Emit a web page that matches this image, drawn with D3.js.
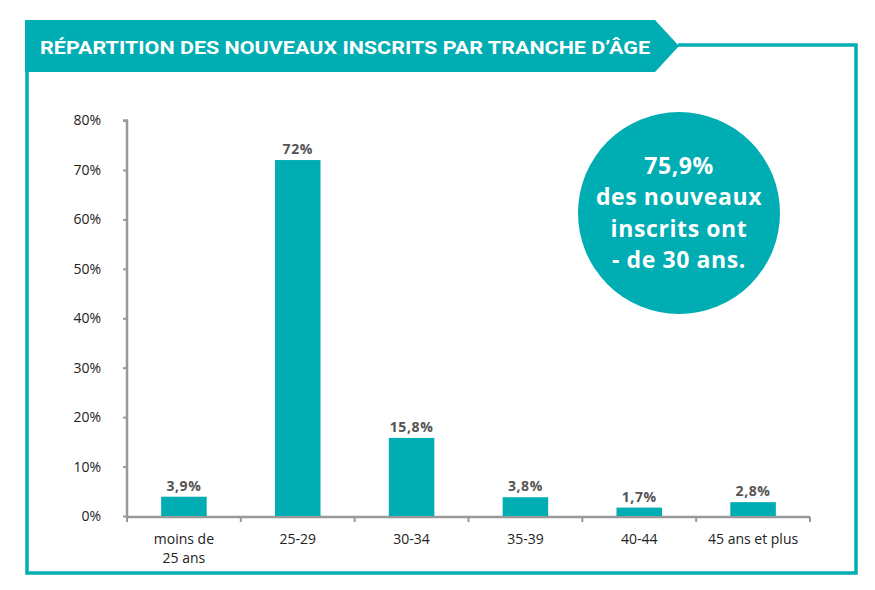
<!DOCTYPE html>
<html><head><meta charset="utf-8">
<script src="https://cdn.jsdelivr.net/npm/d3@7/dist/d3.min.js"></script>
<style>
body{margin:0;background:#fff;}
svg{display:block;font-family:"Open Sans",Lato,sans-serif;}
</style></head>
<body><svg id="c" width="875" height="590"></svg>
<script>
const categories = ["moins de 25 ans","25-29","30-34","35-39","40-44","45 ans et plus"];
const categoryLines = [["moins de","25 ans"],["25-29"],["30-34"],["35-39"],["40-44"],["45 ans et plus"]];
const values = [3.9, 72, 15.8, 3.8, 1.7, 2.8];
const valueLabels = ["3,9%","72%","15,8%","3,8%","1,7%","2,8%"];
const yTicks = [0,10,20,30,40,50,60,70,80];
const title = "RÉPARTITION DES NOUVEAUX INSCRITS PAR TRANCHE D’ÂGE";
const calloutLines = ["75,9%","des nouveaux","inscrits ont","- de 30 ans."];

const teal = "#00adb3";
const svg = d3.select("#c");

// frame
svg.append("path")
  .attr("d","M678,45 L856,45 L856,573 L27,573 L27,70")
  .attr("fill","none").attr("stroke",teal).attr("stroke-width",3.5);
svg.append("path")
  .attr("d","M25,20 L655,20 L679,46 L655,72 L25,72 Z")
  .attr("fill",teal);
svg.append("text").attr("x",40).attr("y",53.5)
  .attr("fill","#fff").attr("font-family","Roboto, 'Open Sans', sans-serif")
  .attr("font-weight",700).attr("font-size",18)
  .attr("textLength",610).attr("lengthAdjust","spacingAndGlyphs")
  .text(title);

const x = d3.scaleBand().domain(categories).range([127,810]).paddingInner(0.6).paddingOuter(0.3);
const xEdges = d3.scaleLinear().domain([0,categories.length]).range([127,810]);
const y = d3.scaleLinear().domain([0,80]).range([516,120.5]);

// y axis
const yAxis = svg.append("g").attr("transform","translate(127,0)")
  .call(d3.axisLeft(y).tickValues(yTicks).tickFormat(d=>d+"%").tickSize(4).tickPadding(22));
yAxis.select(".domain").attr("stroke","#999").attr("stroke-width",2.5).attr("d","M-4,120.5H0V516");
yAxis.selectAll(".tick line").attr("stroke","#999").attr("stroke-width",2);
yAxis.selectAll(".tick text").attr("fill","#222").attr("font-size",14).attr("font-family","'Open Sans', sans-serif");

// x axis line with boundary ticks
const xg = svg.append("g");
xg.append("line").attr("x1",127).attr("x2",810).attr("y1",517).attr("y2",517)
  .attr("stroke","#999").attr("stroke-width",2.5);
xg.selectAll("line.t").data(d3.range(categories.length+1)).join("line").attr("class","t")
  .attr("x1",d=>xEdges(d)).attr("x2",d=>xEdges(d)).attr("y1",517).attr("y2",522)
  .attr("stroke","#999").attr("stroke-width",2);

// bars
svg.selectAll("rect.bar").data(values).join("rect").attr("class","bar")
  .attr("x",(d,i)=>x(categories[i])).attr("width",x.bandwidth())
  .attr("y",d=>y(d)).attr("height",d=>y(0)-y(d)).attr("fill",teal);

svg.selectAll("text.val").data(values).join("text").attr("class","val")
  .attr("x",(d,i)=>x(categories[i])+x.bandwidth()/2).attr("y",d=>y(d)-6)
  .attr("text-anchor","middle").attr("fill","#555").attr("font-weight",700)
  .attr("font-size",14).attr("letter-spacing",0.6)
  .text((d,i)=>valueLabels[i]);

// category labels
categoryLines.forEach((lines,i)=>{
  const t = svg.append("text").attr("text-anchor","middle")
    .attr("x",x(categories[i])+x.bandwidth()/2).attr("y",544)
    .attr("fill","#222").attr("font-size",14).attr("font-family","'Open Sans', sans-serif");
  lines.forEach((l,j)=>t.append("tspan").attr("x",x(categories[i])+x.bandwidth()/2).attr("dy",j?19:0).text(l));
});

// callout circle
svg.append("circle").attr("cx",679).attr("cy",213).attr("r",101).attr("fill",teal);
const ct = svg.append("text").attr("text-anchor","middle").attr("fill","#fff")
  .attr("font-weight",700).attr("font-size",23).attr("letter-spacing",0.6);
calloutLines.forEach((l,j)=>ct.append("tspan").attr("x",679).attr("y",174+j*31.3).text(l));
</script>
</body></html>
